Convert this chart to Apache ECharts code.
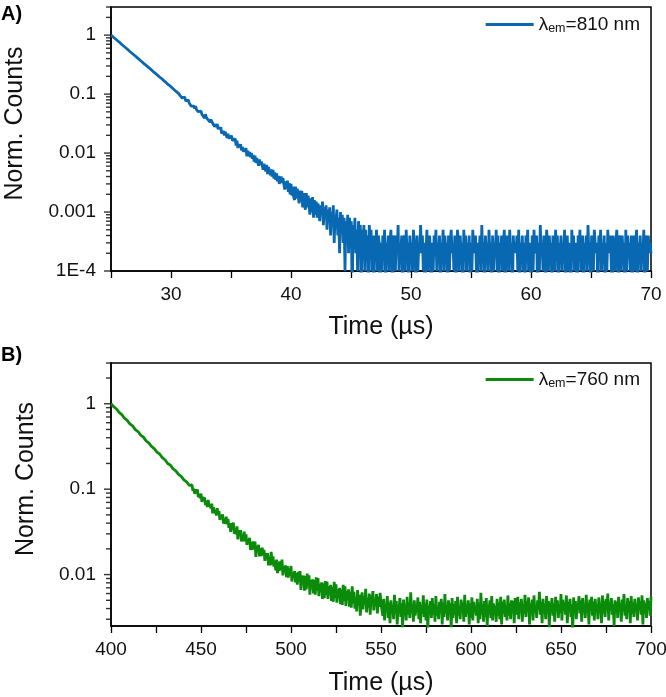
<!DOCTYPE html>
<html><head><meta charset="utf-8">
<script src="https://cdn.jsdelivr.net/npm/echarts@6/dist/echarts.min.js"></script>
<style>html,body{margin:0;padding:0;background:#fff}#c{width:666px;height:697px}#err{position:absolute;left:2px;top:682px;font:10px sans-serif;color:#c00;white-space:nowrap}</style>
</head><body><div id="c"></div><div id="err"></div>
<script>
window.onerror = function (m) { document.getElementById('err').textContent += ' ' + m; };
// ---------- data ----------
const nameA = 'λem=810 nm';
const nameB = 'λem=760 nm';
const colorA = '#0868b1';
const colorB = '#0a8c0a';

// Panel A: time grid (µs) and normalized counts ×10^4 (0 = no counts, drawn below the floor)
const startA = 25, stepA = 0.075;
const countsA = [
10000,9680,9430,9110, 8900,8570,8360,8080, 7830,7640,7350,7180, 6930,6760,6520,6350,
6170,5960,5820,5610, 5470,5280,5160,4980, 4830,4700,4540,4420, 4290,4140,4030,3900,
3800,3670,3580,3460, 3350,3270,3150,3070, 2990,2880,2810,2710, 2630,2570,2480,2420,
2330,2280,2190,2140, 2080,2000,1950,1890, 1820,1790,1710,1680, 1630,1570,1530,1470,
1450,1390,1360,1300, 1280,1230,1200,1160, 1120,1100,1050,1030,
1048,933,953,859, 919,843,889,770, 791,734,788,698, 737,626,667,593, 625,572,623,546,
580,502,514,474, 514,452,486,434, 392,456,397,417, 365,388,333,371, 347,320,336,281,
309,276,312,253, 278,253,274,215, 230,237,199,229, 225,181,213,176, 186,164,196,162,
170,155,176,134, 162,122,140,127, 141,111,126,106, 113,99,120,88,
110,88,104,85, 100,80,93,72, 90,68,82,70, 61,78,63,72, 70,52,66,55, 49,63,44,58,
56,42,53,40, 52,37,47,35, 45,33,41,30, 28,40,31,38, 36,24,33,25, 34,22,31,20,
30,19,27,18, 16,27,17,25, 26,14,23,15, 23,12,21,13, 11,21,12,19, 19,9,17,10, 18,8,16,9,
15,8,14,10, 7,13,9,15, 6,12,8,13, 5,11,7,12, 4,10,6,13, 3,9,7,11, 4,8,2,10, 5,9,3,8,
1,7,4,9, 2,8,5,7, 0,6,3,8, 2,5,1,7, 4,6,0,5, 3,6,1,5, 2,4,0,6, 3,5,1,4, 0,4,2,5, 1,4,3,0,
3,1,4,2,5,0,3,2,4,1,3,5,2,0,4,3,1,4,2,6,
1,3,2,4,0,3,4,1,5,2,3,0,4,2,3,1,5,3,2,0,
4,1,3,2,6,2,4,1,3,0,2,5,1,3,4,2,0,3,1,4,
2,5,1,3,2,4,0,3,2,5,1,4,2,3,0,4,1,3,5,2,
3,1,4,0,2,5,3,1,4,2,3,0,5,2,4,1,3,2,4,0,
3,1,5,2,3,4,1,0,3,2,4,1,6,2,3,0,4,2,3,1,
5,2,3,0,4,1,3,2,5,1,4,0,3,2,4,1,3,5,0,2,
4,3,1,5,2,3,0,4,2,3,2,4,1,5,0,3,2,4,1,3,
0,4,2,5,1,3,3,0,4,1,5,2,2,4,0,3,1,6,2,3,
1,4,2,0,5,3,1,4,2,3,0,4,3,1,5,2,4,0,3,2,
4,1,3,2,5,0,2,4,1,3,3,0,5,2,4,1,2,3,0,4,
2,5,1,3,4,0,3,2,4,1,6,2,3,0,4,2,1,5,3,2,
3,0,4,2,5,1,3,2,4,0,3,1,5,2,3,4,1,0,4,2,
1,3,5,2,0,4,3,1,4,2,3,0,5,1,4,2,3,1,4,0,
2,4,1,3,5,0,3,2,4,1,3,2,5,0,4,3,1,4,2,3,
2
];

// Panel B: time grid (µs) and normalized counts ×10^4
const startB = 400, stepB = 0.5;
const countsB = [
10000,9790,9540,9240,9070, 8780,8690,8350,8250,7930, 7840,7530,7450,7150,7080,
6790,6730,6450,6400,6130, 6090,5820,5790,5530,5500, 5260,5230,4990,4970,4750,
4730,4510,4500,4290,4270, 4080,4060,3870,3860,3680, 3670,3500,3490,3320,3310,
3160,3150,3000,2990,2850, 2860,2720,2710,2580,2580, 2460,2450,2340,2330,2220,
2210,2110,2100,2000,2000, 1920,1910,1820,1820,1730, 1730,1650,1640,1565,1560,
1490,1485,1420,1415,1350, 1345,1285,1280,1220,1215, 1170,1165,1110,1105,1058,
1120,955,1013,881,997, 893,993,810,867,787, 889,709,814,745,801,
652,720,618,749,627, 662,596,675,521,616, 520,569,491,598,505,
553,436,497,463,508, 395,457,392,475,387, 449,353,396,317,401,
339,407,300,341,297, 366,258,330,291,331, 244,294,245,318,244,
295,222,257,234,270, 194,239,195,245,201, 243,161,219,190,223,
163,203,164,206,175, 195,145,178,156,179, 128,161,128,184,131,
163,124,145,112,150, 104,142,110,143,114, 150,98,126,106,128,
93,126,92,118,97, 126,83,105,94,110, 81,104,76,108,83,
110,66,98,81,97, 65,96,67,103,73, 98,58,87,72,88,
60,86,58,93,65, 91,56,78,64,81, 52,79,53,84,58,
83,52,73,58,76, 49,72,48,82,53, 77,47,67,53,70,
45,67,44,76,49, 73,43,64,51,67, 42,63,41,73,46,
63,40,55,37,66,44,58,33,51,62,39,56,45,68,36,53,41,60,34,57,47,64,38,52,43,59,35,55,42,61,46,
48,33,52,29,45,38,56,31,47,27,50,36,44,30,58,35,49,26,43,39,
53,32,46,24,51,37,42,29,55,34,47,31,62,36,45,28,50,33,41,38,
54,30,48,27,44,35,57,32,46,29,51,23,43,37,49,31,53,34,45,28,
56,33,42,30,48,36,52,26,47,32,59,35,44,29,50,38,46,24,53,31,
45,34,49,27,55,33,43,30,51,37,47,28,58,32,44,35,50,26,46,31,
54,29,48,36,42,33,52,27,47,30,61,34,45,28,49,32,53,25,44,37,
50,31,56,29,46,34,43,28,52,33,47,30,55,26,48,35,51,32,44,29,
57,33,46,30,50,36,49,27,53,34,41,55,30,47,37,52,28,45,35,58,
32,49,38,54,26,46,40,51,29,57,36,44,31,50,39,63,34,48,27,52,
37,45,30,56,35,49,24,47,41,53,33,46,28,55,38,50,31,44,36,59,
29,51,40,47,34,57,27,48,39,52,32,45,22,54,37,49,30,46,41,56,
35,50,28,53,38,44,31,58,36,47,26,51,40,55,33,48,29,52,37,45,
30,54,39,46,27,57,35,49,32,52,38,60,29,47,41,53,34,45,25,50,
36,48,31,55,40,46,28,51,37,59,33,44,30,53,39,49,27,56,35,47,
32,52,38,45,29,54,41,48,34,57,26,50,37,46,31,53,40,49,33,55
];

// axes
const xRangeA = [25, 70], xTickStepA = 5;
const xLabelsA = [30, 40, 50, 60, 70];
const xRangeB = [400, 700], xTickStepB = 25;
const xLabelsB = [400, 450, 500, 550, 600, 650, 700];
const yRangeA = [1e-4, 3];
const yDecadesA = [1e-4, 1e-3, 1e-2, 1e-1, 1];
const yLabelsA = ['1E-4', '0.001', '0.01', '0.1', '1'];
const yRangeB = [0.0025, 3];
const yDecadesB = [1e-2, 1e-1, 1];
const yLabelsB = ['0.01', '0.1', '1'];

// ---------- build ----------
const F = "'Liberation Sans', Arial, Helvetica, sans-serif";
const FLOOR = 3e-5; // zero counts sit below the axis floor (clipped)

function toSeries(counts, start, step) {
  return counts.map((c, i) => [+(start + i * step).toFixed(3), c > 0 ? c / 1e4 : FLOOR]);
}
const dataA = toSeries(countsA, startA, stepA);
const dataB = toSeries(countsB, startB, stepB);

function minorLogTicks(lo, hi) {
  const out = [];
  for (let e = Math.floor(Math.log10(lo)); e <= Math.ceil(Math.log10(hi)); e++) {
    for (let k = 2; k <= 9; k++) {
      const v = k * Math.pow(10, e);
      if (v >= lo * 0.999 && v <= hi * 1.001) out.push(v);
    }
  }
  return out;
}
function labelFor(decades, labels) {
  return v => {
    for (let i = 0; i < decades.length; i++) {
      if (Math.abs(Math.log10(v) - Math.log10(decades[i])) < 1e-6) return labels[i];
    }
    return '';
  };
}
function xAxis(idx, range, step, labels, gap) {
  return {
    gridIndex: idx, type: 'value', min: range[0], max: range[1], interval: step,
    axisLine: { show: true, onZero: false, lineStyle: { color: '#000', width: 1.5 } },
    axisTick: { show: true, length: 7, lineStyle: { color: '#000', width: 1.3 } },
    axisLabel: { fontSize: 19, color: '#111', fontFamily: F, margin: 14, showMinLabel: true, showMaxLabel: true,
      formatter: v => labels.includes(v) ? String(v) : '' },
    splitLine: { show: false },
    name: 'Time (µs)', nameLocation: 'middle', nameGap: gap,
    nameTextStyle: { fontSize: 25, color: '#111', fontFamily: F }
  };
}
function yAxis(idx, range, decades, labels) {
  return {
    gridIndex: idx, type: 'log', logBase: 10, min: range[0], max: range[1],
    axisLine: { show: true, lineStyle: { color: '#000', width: 1.5 } },
    axisTick: { show: false },
    axisLabel: { fontSize: 19, color: '#111', fontFamily: F, margin: 15, formatter: labelFor(decades, labels) },
    splitLine: { show: false }
  };
}
// log-axis tick marks (major at decades, minor at 2..9), placed by the axis scales as short bars
function tickSeries(idx, x0, values, len) {
  return {
    type: 'scatter', xAxisIndex: idx, yAxisIndex: idx, silent: true, clip: false, z: 6,
    symbol: 'rect', symbolSize: [len, 1.4], symbolOffset: [-len / 2, 0],
    itemStyle: { color: '#000' }, emphasis: { disabled: true }, tooltip: { show: false },
    data: values.map(v => [x0, v])
  };
}
function legend(name, top, sub, rest) {
  return {
    data: [name], right: 26, top, padding: 0, icon: 'rect', itemWidth: 48, itemHeight: 3,
    formatter: () => '{m|λ}{s|' + sub + '}{m|' + rest + '}',
    textStyle: { rich: {
      m: { fontSize: 19, fontFamily: F, color: '#111' },
      s: { fontSize: 12.5, fontFamily: F, color: '#111', padding: [9, 0, 0, 0] }
    } }
  };
}
function yTitle(cx, cy) {
  return { type: 'text', x: cx, y: cy, rotation: Math.PI / 2, silent: true,
    style: { text: 'Norm. Counts', fontSize: 25, fontFamily: F, fill: '#111', align: 'center', verticalAlign: 'middle' } };
}

const chart = echarts.init(document.getElementById('c'), null, { renderer: 'canvas' });
try {
chart.setOption({
  animation: false,
  grid: [
    { left: 111, right: 15, top: 7, height: 264, show: true, borderColor: '#000', borderWidth: 1.5, outerBoundsMode: 'none' },
    { left: 111, right: 15, top: 363, height: 263, show: true, borderColor: '#000', borderWidth: 1.5, outerBoundsMode: 'none' }
  ],
  xAxis: [xAxis(0, xRangeA, xTickStepA, xLabelsA, 44), xAxis(1, xRangeB, xTickStepB, xLabelsB, 45)],
  yAxis: [yAxis(0, yRangeA, yDecadesA, yLabelsA), yAxis(1, yRangeB, yDecadesB, yLabelsB)],
  legend: [legend(nameA, 15, 'em', '=810 nm'), legend(nameB, 370, 'em', '=760 nm')],
  graphic: [
    { type: 'text', left: 1, top: 4, style: { text: 'A)', fontSize: 20, fontWeight: 'bold', fontFamily: F, fill: '#000' } },
    { type: 'text', left: 1, top: 345, style: { text: 'B)', fontSize: 20, fontWeight: 'bold', fontFamily: F, fill: '#000' } },
    yTitle(15, 123.5),
    yTitle(26.5, 479)
  ],
  series: [
    { name: nameA, type: 'line', xAxisIndex: 0, yAxisIndex: 0, data: dataA, showSymbol: false, symbol: 'none',
      clip: true, color: colorA, lineStyle: { color: colorA, width: 2.8 }, z: 3 },
    { name: nameB, type: 'line', xAxisIndex: 1, yAxisIndex: 1, data: dataB, showSymbol: false, symbol: 'none',
      clip: true, color: colorB, lineStyle: { color: colorB, width: 2.8 }, z: 3 },
    tickSeries(0, xRangeA[0], yDecadesA, 7),
    tickSeries(0, xRangeA[0], minorLogTicks(yRangeA[0], yRangeA[1]), 5),
    tickSeries(1, xRangeB[0], yDecadesB, 7),
    tickSeries(1, xRangeB[0], minorLogTicks(yRangeB[0], yRangeB[1]), 5)
  ]
});
} catch (e) { document.getElementById('err').textContent += ' ERR ' + e.message; }
</script></body></html>
